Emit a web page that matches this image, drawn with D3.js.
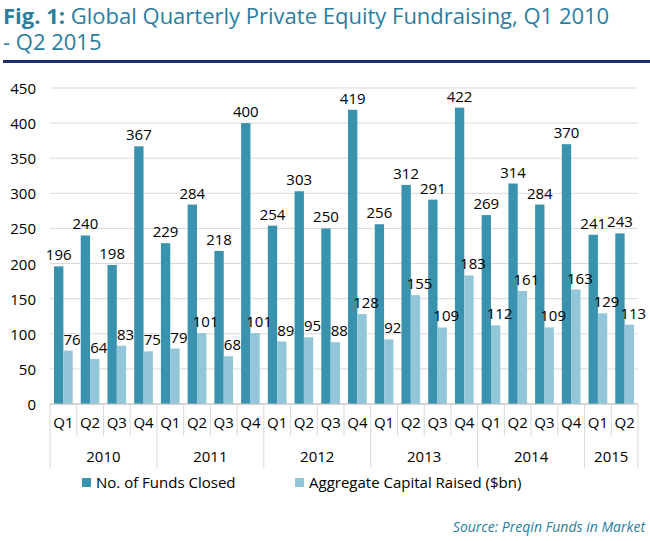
<!DOCTYPE html>
<html><head><meta charset="utf-8">
<script src="https://cdn.jsdelivr.net/npm/d3@7"></script>
<style>body{margin:0;background:#fff;font-family:"Open Sans",sans-serif;}</style>
</head><body>
<svg id="chart" width="650" height="541"></svg>
<script>
const quarters = ["Q1","Q2","Q3","Q4","Q1","Q2","Q3","Q4","Q1","Q2","Q3","Q4","Q1","Q2","Q3","Q4","Q1","Q2","Q3","Q4","Q1","Q2"];
const years = ["2010","2011","2012","2013","2014","2015"];
const yearCounts = [4,4,4,4,4,2];
const fundsClosed = [196,240,198,367,229,284,218,400,254,303,250,419,256,312,291,422,269,314,284,370,241,243];
const capitalRaised = [76,64,83,75,79,101,68,101,89,95,88,128,92,155,109,183,112,161,109,163,129,113];
const yTicks = [0,50,100,150,200,250,300,350,400,450];

const dark = "#3a93ae", light = "#93c6d9", teal = "#2a7ea0";
const svg = d3.select("#chart");
const plotLeft = 50, plotRight = 638, plotTop = 88, plotBottom = 404;

svg.append("text").attr("x", 3).attr("y", 24).attr("font-size", 22).attr("fill", teal)
  .html('<tspan font-weight="bold">Fig. 1:</tspan> Global Quarterly Private Equity Fundraising, Q1 2010');
svg.append("text").attr("x", 3).attr("y", 50).attr("font-size", 22).attr("fill", teal).text("- Q2 2015");
svg.append("rect").attr("x", 3).attr("y", 60).attr("width", 647).attr("height", 3).attr("fill", "#1f2d6e");

const x = d3.scaleBand().domain(d3.range(quarters.length)).range([plotLeft, plotRight]);
const y = d3.scaleLinear().domain([0, 450]).range([plotBottom, plotTop]);

svg.append("g").selectAll("line").data(yTicks).join("line")
  .attr("x1", plotLeft).attr("x2", plotRight).attr("y1", d => y(d)).attr("y2", d => y(d))
  .attr("stroke", "#d9d9d9");
svg.append("g").selectAll("text").data(yTicks).join("text")
  .attr("x", 36).attr("y", d => y(d) + 6).attr("text-anchor", "end").attr("font-size", 15).text(d => d);

const bw = x.bandwidth();
const barW = bw * 0.35;
svg.append("g").selectAll("rect").data(fundsClosed).join("rect")
  .attr("x", (d, i) => x(i) + bw / 2 - barW).attr("width", barW)
  .attr("y", d => y(d)).attr("height", d => plotBottom - y(d)).attr("fill", dark);
svg.append("g").selectAll("rect").data(capitalRaised).join("rect")
  .attr("x", (d, i) => x(i) + bw / 2).attr("width", barW)
  .attr("y", d => y(d)).attr("height", d => plotBottom - y(d)).attr("fill", light);
svg.append("g").selectAll("text").data(fundsClosed).join("text")
  .attr("x", (d, i) => x(i) + bw / 2 - barW / 2).attr("y", d => y(d) - 6)
  .attr("text-anchor", "middle").attr("font-size", 15).text(d => d);
svg.append("g").selectAll("text").data(capitalRaised).join("text")
  .attr("x", (d, i) => x(i) + bw / 2 + barW / 2 + 4).attr("y", d => y(d) - 6)
  .attr("text-anchor", "middle").attr("font-size", 15).text(d => d);

svg.append("line").attr("x1", plotLeft).attr("x2", plotRight).attr("y1", plotBottom).attr("y2", plotBottom).attr("stroke", "#bfbfbf");
svg.append("g").selectAll("line").data(d3.range(quarters.length + 1)).join("line")
  .attr("x1", i => plotLeft + i * bw).attr("x2", i => plotLeft + i * bw)
  .attr("y1", plotBottom).attr("y2", plotBottom + 32).attr("stroke", "#d9d9d9");
svg.append("g").selectAll("text").data(quarters).join("text")
  .attr("x", (d, i) => x(i) + bw / 2).attr("y", plotBottom + 24)
  .attr("text-anchor", "middle").attr("font-size", 15).text(d => d);
let starts = [0];
yearCounts.forEach((c, i) => starts.push(starts[i] + c));
svg.append("g").selectAll("line").data(starts).join("line")
  .attr("x1", s => plotLeft + s * bw).attr("x2", s => plotLeft + s * bw)
  .attr("y1", plotBottom + 32).attr("y2", plotBottom + 64).attr("stroke", "#d9d9d9");
svg.append("g").selectAll("text").data(years).join("text")
  .attr("x", (d, i) => plotLeft + (starts[i] + yearCounts[i] / 2) * bw).attr("y", plotBottom + 58)
  .attr("text-anchor", "middle").attr("font-size", 15).text(d => d);

const legend = [["No. of Funds Closed", dark, 82], ["Aggregate Capital Raised ($bn)", light, 295]];
legend.forEach(([t, c, lx]) => {
  svg.append("rect").attr("x", lx).attr("y", 478).attr("width", 9).attr("height", 9).attr("fill", c);
  svg.append("text").attr("x", lx + 14).attr("y", 488).attr("font-size", 15).text(t);
});
svg.append("text").attr("x", 645).attr("y", 532).attr("text-anchor", "end").attr("font-size", 14)
  .attr("font-style", "italic").attr("fill", teal).text("Source: Preqin Funds in Market");
</script>
</body></html>
